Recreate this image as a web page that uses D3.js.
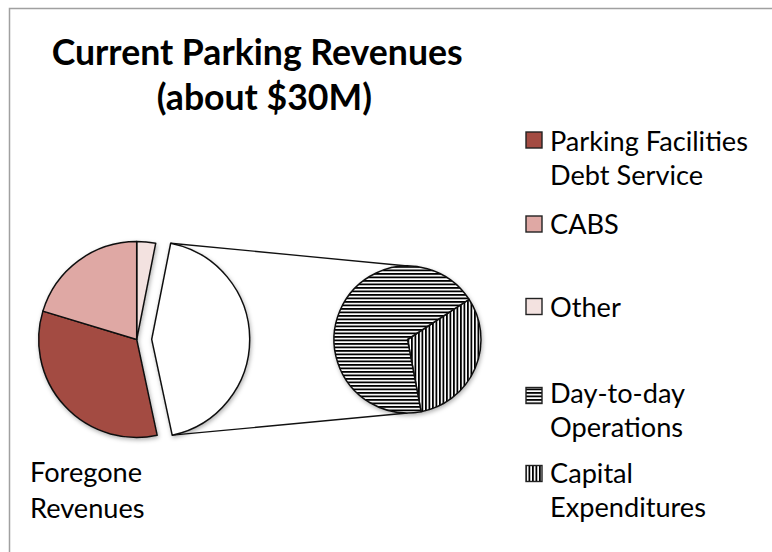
<!DOCTYPE html>
<html>
<head>
<meta charset="utf-8">
<script src="https://cdn.jsdelivr.net/npm/d3@7"></script>
<style>
  html, body { margin: 0; padding: 0; background: #ffffff; }
  svg { display: block; }
</style>
</head>
<body>
<div id="chart"></div>
<script>
// ---------------- data ----------------
const titleLines = ["Current Parking Revenues", "(about $30M)"];
const primaryCategories = ["Parking Facilities Debt Service", "CABS", "Other"];
const primaryValues = [33.0, 20.3, 3.1];
const secondaryCategories = ["Day-to-day Operations", "Capital Expenditures"];
const secondaryValues = [29.9, 13.6];
const combinedLabel = ["Foregone", "Revenues"];
const legendLines = [
  ["Parking Facilities", "Debt Service"],
  ["CABS"],
  ["Other"],
  ["Day-to-day", "Operations"],
  ["Capital", "Expenditures"]
];
const legendKeys = ["Parking Facilities Debt Service", "CABS", "Other", "Day-to-day Operations", "Capital Expenditures"];

// ---------------- setup ----------------
const W = 772, H = 552;
const svg = d3.select("#chart").append("svg").attr("width", W).attr("height", H);
const defs = svg.append("defs");

const hPat = defs.append("pattern").attr("id", "hlines").attr("patternUnits", "userSpaceOnUse")
  .attr("width", 8).attr("height", 3.5);
hPat.append("rect").attr("width", 8).attr("height", 3.5).attr("fill", "#fff");
hPat.append("rect").attr("y", 0).attr("width", 8).attr("height", 1.8).attr("fill", "#000");

const vPat = defs.append("pattern").attr("id", "vlines").attr("patternUnits", "userSpaceOnUse")
  .attr("width", 3.5).attr("height", 8);
vPat.append("rect").attr("width", 3.5).attr("height", 8).attr("fill", "#fff");
vPat.append("rect").attr("x", 0).attr("width", 1.8).attr("height", 8).attr("fill", "#000");

const shadow = defs.append("filter").attr("id", "shadow")
  .attr("x", "-20%").attr("y", "-20%").attr("width", "140%").attr("height", "140%");
shadow.append("feDropShadow").attr("dx", 1).attr("dy", 2).attr("stdDeviation", 2)
  .attr("flood-color", "#000").attr("flood-opacity", 0.3);

const fillFor = {
  "Parking Facilities Debt Service": "#a34b42",
  "CABS": "#dfa8a4",
  "Other": "#f3e2e0",
  "Foregone Revenues": "#ffffff",
  "Day-to-day Operations": "url(#hlines)",
  "Capital Expenditures": "url(#vlines)"
};

// frame
svg.append("rect").attr("x", 9.5).attr("y", 8.5).attr("width", 800).attr("height", 600)
  .attr("fill", "#fff").attr("stroke", "#a0a0a0").attr("stroke-width", 1.5);

// ---------------- pies ----------------
const combinedName = combinedLabel.join(" ");
const combinedValue = d3.sum(secondaryValues);
const mainData = [
  { name: primaryCategories[2], value: primaryValues[2] },
  { name: combinedName, value: combinedValue },
  { name: primaryCategories[0], value: primaryValues[0] },
  { name: primaryCategories[1], value: primaryValues[1] }
];

const mainC = [136.7, 339.5], mainR = 98, explode = 15;
const subC = [407.5, 339.5], subR = 73.5;

const mainPie = d3.pie().sort(null).value(d => d.value).startAngle(0).endAngle(2 * Math.PI);
const mainArcs = mainPie(mainData);
const arcMain = d3.arc().innerRadius(0).outerRadius(mainR);

const combArc = mainArcs.find(a => a.data.name === combinedName);
const mid = (combArc.startAngle + combArc.endAngle) / 2;
const combC = [mainC[0] + explode * Math.sin(mid), mainC[1] - explode * Math.cos(mid)];

// connector lines
const p1 = [combC[0] + mainR * Math.sin(combArc.startAngle), combC[1] - mainR * Math.cos(combArc.startAngle)];
const p2 = [combC[0] + mainR * Math.sin(combArc.endAngle), combC[1] - mainR * Math.cos(combArc.endAngle)];
svg.append("line").attr("x1", p1[0]).attr("y1", p1[1]).attr("x2", subC[0]).attr("y2", subC[1] - subR)
  .attr("stroke", "#111").attr("stroke-width", 1.3);
svg.append("line").attr("x1", p2[0]).attr("y1", p2[1]).attr("x2", subC[0]).attr("y2", subC[1] + subR)
  .attr("stroke", "#111").attr("stroke-width", 1.3);

const gMain = svg.append("g").attr("filter", "url(#shadow)");
gMain.selectAll("path").data(mainArcs).join("path")
  .attr("transform", d => d.data.name === combinedName
    ? `translate(${combC[0]},${combC[1]})` : `translate(${mainC[0]},${mainC[1]})`)
  .attr("d", arcMain)
  .attr("fill", d => fillFor[d.data.name])
  .attr("stroke", "#111").attr("stroke-width", 1.5).attr("stroke-linejoin", "round");

const subData = [
  { name: secondaryCategories[1], value: secondaryValues[1] },
  { name: secondaryCategories[0], value: secondaryValues[0] }
];
const subStart = 56.8 * Math.PI / 180;
const subPie = d3.pie().sort(null).value(d => d.value).startAngle(subStart).endAngle(subStart + 2 * Math.PI);
const arcSub = d3.arc().innerRadius(0).outerRadius(subR);
const gSub = svg.append("g").attr("transform", `translate(${subC[0]},${subC[1]})`).attr("filter", "url(#shadow)");
gSub.selectAll("path").data(subPie(subData)).join("path")
  .attr("d", arcSub)
  .attr("fill", d => fillFor[d.data.name])
  .attr("stroke", "#111").attr("stroke-width", 1.5).attr("stroke-linejoin", "round");

// ---------------- text ----------------
const FONT = "Lato, 'Open Sans', 'DejaVu Sans', sans-serif";
function fitSize(str, weight, target, base) {
  const t = svg.append("text").attr("font-family", FONT).attr("font-weight", weight)
    .attr("font-size", base).text(str);
  const w = t.node().getComputedTextLength();
  t.remove();
  return base * target / w;
}

const titleSize = fitSize(titleLines[0], 700, 411, 30);
const titleX = [51.7, 156.7];
const titleY = [64.5, 110];
titleLines.forEach((s, i) => {
  svg.append("text").attr("x", titleX[i]).attr("y", titleY[i])
    .attr("font-family", FONT).attr("font-weight", 700).attr("font-size", titleSize)
    .attr("fill", "#000").text(s);
});

const legSize = fitSize(legendLines[0][0], 400, 198, 24);
const legBaselines = [150.7, 234, 317, 403, 483];
const lineGap = 34.2;
const swatchTops = [132, 216, 298.5, 387.5, 465.5];
const legend = svg.append("g");
legendKeys.forEach((k, i) => {
  legend.append("rect").attr("x", 526).attr("y", swatchTops[i]).attr("width", 16).attr("height", 16)
    .attr("fill", fillFor[k]).attr("stroke", "#222").attr("stroke-width", 1.4);
  legendLines[i].forEach((s, j) => {
    legend.append("text").attr("x", 550).attr("y", legBaselines[i] + j * lineGap)
      .attr("font-family", FONT).attr("font-size", legSize).attr("fill", "#000").text(s);
  });
});

combinedLabel.forEach((s, j) => {
  svg.append("text").attr("x", 30).attr("y", 481.7 + j * 36.5)
    .attr("font-family", FONT).attr("font-size", legSize).attr("fill", "#000").text(s);
});
</script>
</body>
</html>
